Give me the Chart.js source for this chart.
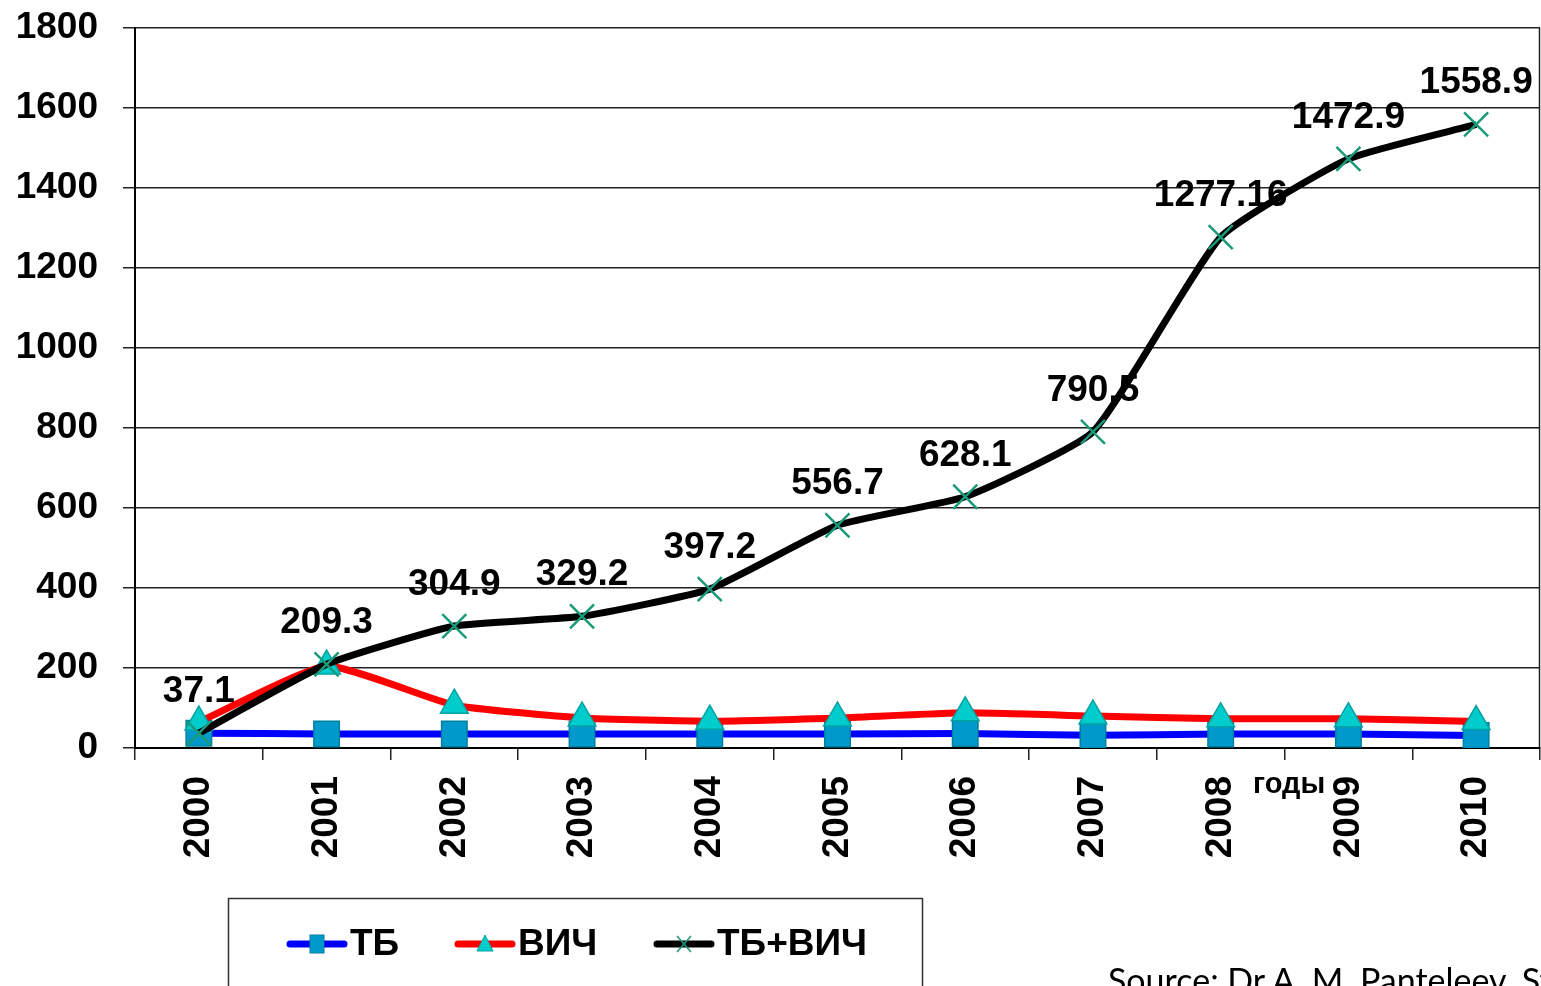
<!DOCTYPE html>
<html>
<head>
<meta charset="utf-8">
<style>
  html, body { margin: 0; padding: 0; background: #fff; }
  #wrap { width: 1541px; height: 986px; position: relative; overflow: hidden; }
</style>
</head>
<body>
<div id="wrap"><canvas id="myChart" width="1541" height="986"></canvas></div>

<script src="https://cdn.jsdelivr.net/npm/chart.js"></script>
<script>
  // Données du graphique
  const years = ['2000', '2001', '2002', '2003', '2004', '2005', '2006', '2007', '2008', '2009', '2010'];
  const tb = [37, 35, 35, 35, 35, 35, 36, 32, 35, 35, 31];
  const hiv = [65, 205, 107, 75, 67, 75, 88, 80, 73, 73, 66];
  const tbHiv = [37.1, 209.3, 304.9, 329.2, 397.2, 556.7, 628.1, 790.5, 1277.16, 1472.9, 1558.9];
  const tbHivLabels = ['37.1', '209.3', '304.9', '329.2', '397.2', '556.7', '628.1', '790.5', '1277.16', '1472.9', '1558.9'];
  const seriesNames = ['ТБ', 'ВИЧ', 'ТБ+ВИЧ'];
  const yMin = 0, yMax = 1800, yStep = 200;
  const axisTitle = 'годы';
  const sourceText = 'Source: Dr.A. M. Panteleev, St. Petersburg';

  const FONT = '"Liberation Sans", Arial, sans-serif';

  // pas de marge automatique autour des axes
  function noPadding(scale) {
    scale.paddingLeft = 0;
    scale.paddingRight = 0;
    scale.paddingTop = 0;
    scale.paddingBottom = 0;
  }

  // Étiquettes de valeurs au-dessus des points ТБ+ВИЧ
  const valueLabels = {
    id: 'valueLabels',
    afterDatasetsDraw(chart) {
      const ctx = chart.ctx;
      const meta = chart.getDatasetMeta(2);
      ctx.save();
      ctx.font = 'bold 37px ' + FONT;
      ctx.fillStyle = '#000';
      ctx.textAlign = 'center';
      ctx.textBaseline = 'alphabetic';
      meta.data.forEach((pt, i) => {
        ctx.fillText(tbHivLabels[i], pt.x, pt.y - 31);
      });
      ctx.restore();
    }
  };

  // Cadre, titre d'axe, légende et source
  const extras = {
    id: 'extras',
    afterDraw(chart) {
      const ctx = chart.ctx;
      const a = chart.chartArea;
      ctx.save();
      // bord droit du cadre
      ctx.strokeStyle = '#222';
      ctx.lineWidth = 1.5;
      ctx.beginPath();
      ctx.moveTo(a.right - 0.5, a.top);
      ctx.lineTo(a.right - 0.5, a.bottom);
      ctx.stroke();

      // titre "годы"
      ctx.font = 'bold 29px ' + FONT;
      ctx.fillStyle = '#000';
      ctx.textAlign = 'left';
      ctx.textBaseline = 'alphabetic';
      ctx.fillText(axisTitle, 1253, 793);

      // boîte de légende
      ctx.strokeStyle = '#333';
      ctx.lineWidth = 1.5;
      ctx.strokeRect(228.5, 898.5, 694, 200);

      const starts = [290, 458, 657];
      const ly = 944;
      chart.data.datasets.forEach((ds, i) => {
        const x0 = starts[i];
        ctx.strokeStyle = ds.borderColor;
        ctx.lineWidth = 7;
        ctx.lineCap = 'round';
        ctx.beginPath();
        ctx.moveTo(x0, ly);
        ctx.lineTo(x0 + 54, ly);
        ctx.stroke();
        const mx = x0 + 27;
        ctx.lineCap = 'butt';
        if (ds.pointStyle === 'rect') {
          ctx.fillStyle = ds.pointBackgroundColor;
          ctx.strokeStyle = ds.pointBorderColor;
          ctx.lineWidth = 1;
          ctx.fillRect(mx - 7, ly - 9, 14, 18);
          ctx.strokeRect(mx - 7, ly - 9, 14, 18);
        } else if (ds.pointStyle === 'triangle') {
          ctx.fillStyle = ds.pointBackgroundColor;
          ctx.strokeStyle = ds.pointBorderColor;
          ctx.lineWidth = 1;
          ctx.beginPath();
          ctx.moveTo(mx, ly - 9);
          ctx.lineTo(mx + 8, ly + 7);
          ctx.lineTo(mx - 8, ly + 7);
          ctx.closePath();
          ctx.fill();
          ctx.stroke();
        } else {
          ctx.strokeStyle = ds.pointBorderColor;
          ctx.lineWidth = 1.5;
          ctx.beginPath();
          ctx.moveTo(mx - 7, ly - 8);
          ctx.lineTo(mx + 7, ly + 8);
          ctx.moveTo(mx + 7, ly - 8);
          ctx.lineTo(mx - 7, ly + 8);
          ctx.stroke();
        }
        ctx.font = 'bold 37px ' + FONT;
        ctx.fillStyle = '#000';
        ctx.textBaseline = 'middle';
        ctx.fillText(ds.label, x0 + 60, ly + 1);
      });

      // source
      ctx.font = '34px Lato, "Open Sans", sans-serif';
      ctx.fillStyle = '#000';
      ctx.textBaseline = 'alphabetic';
      ctx.fillText(sourceText, 1108, 993);
      ctx.restore();
    }
  };

  const data = {
    labels: years,
    datasets: [
      {
        label: seriesNames[0],
        data: tb,
        borderColor: '#0000ff',
        borderWidth: 7,
        tension: 0.15,
        pointStyle: 'rect',
        pointRadius: 18,
        pointBackgroundColor: '#0099cc',
        pointBorderColor: '#00809f',
        pointBorderWidth: 1.5,
        order: 2
      },
      {
        label: seriesNames[1],
        data: hiv,
        borderColor: '#ff0000',
        borderWidth: 7,
        tension: 0.15,
        pointStyle: 'triangle',
        pointRadius: 16,
        pointBackgroundColor: '#00cccc',
        pointBorderColor: '#00a3a3',
        pointBorderWidth: 1.5,
        order: 1
      },
      {
        label: seriesNames[2],
        data: tbHiv,
        borderColor: '#000000',
        borderWidth: 7,
        tension: 0.15,
        pointStyle: 'crossRot',
        pointRadius: 17,
        pointBackgroundColor: '#1a9a78',
        pointBorderColor: '#1a9a78',
        pointBorderWidth: 2.5,
        order: 0
      }
    ]
  };

  const config = {
    type: 'line',
    data: data,
    plugins: [valueLabels, extras],
    options: {
      responsive: false,
      animation: false,
      events: [],
      layout: { autoPadding: false, padding: { top: 28, right: 1, left: 0, bottom: 0 } },
      plugins: {
        legend: { display: false },
        tooltip: { enabled: false }
      },
      scales: {
        x: {
          offset: true,
          grid: {
            display: true,
            offset: true,
            drawOnChartArea: false,
            drawTicks: true,
            tickLength: 12,
            color: '#222',
            lineWidth: 1.5
          },
          border: { display: true, color: '#000', width: 2 },
          ticks: {
            color: '#000',
            font: { family: FONT, size: 37, weight: 'bold' },
            minRotation: 90,
            maxRotation: 90,
            padding: 16,
            autoSkip: false
          },
          afterFit(scale) { scale.height = 238; noPadding(scale); }
        },
        y: {
          min: yMin,
          max: yMax,
          grid: {
            color: '#222',
            lineWidth: 1.5,
            drawTicks: true,
            tickLength: 12
          },
          border: { display: true, color: '#000', width: 2 },
          ticks: {
            stepSize: yStep,
            color: '#000',
            font: { family: FONT, size: 37, weight: 'bold' },
            padding: 25,
            callback: (v) => String(v)
          },
          afterFit(scale) { scale.width = 135; noPadding(scale); }
        }
      }
    }
  };

  const myChart = new Chart(document.getElementById('myChart'), config);
</script>
</body>
</html>
